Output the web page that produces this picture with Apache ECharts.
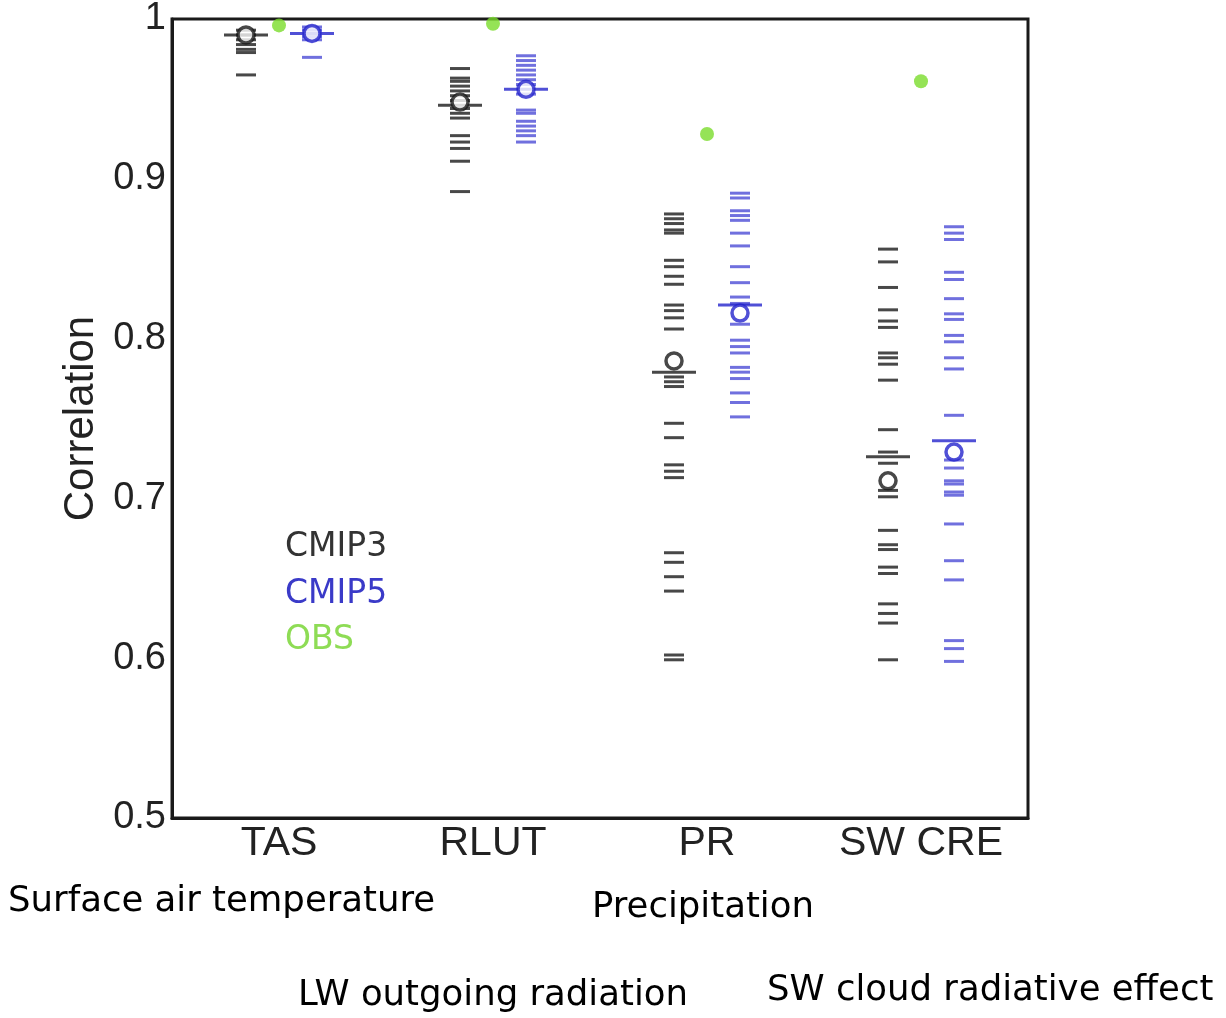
<!DOCTYPE html>
<html>
<head>
<meta charset="utf-8">
<script src="https://cdn.jsdelivr.net/npm/echarts@6/dist/echarts.min.js"></script>
<style>
html, body { margin: 0; padding: 0; background: #fff; }
#chart { width: 1226px; height: 1018px; }
</style>
</head>
<body>
<div id="chart"></div>
<script>
let categories = ["TAS", "RLUT", "PR", "SW CRE"];

// individual models, one dash each
let tasCmip3 = [0.993, 0.990, 0.987, 0.984, 0.981, 0.979, 0.965];
let tasCmip5 = [0.995, 0.993, 0.989, 0.987, 0.976];
let rlutCmip3 = [0.969, 0.963, 0.961, 0.958, 0.955, 0.952, 0.949, 0.944, 0.941, 0.938, 0.927, 0.923, 0.919, 0.911, 0.892];
let rlutCmip5 = [0.977, 0.974, 0.971, 0.968, 0.965, 0.962, 0.959, 0.953, 0.943, 0.941, 0.936, 0.933, 0.930, 0.927, 0.923];
let prCmip3 = [0.878, 0.875, 0.872, 0.868, 0.866, 0.849, 0.845, 0.839, 0.834, 0.821, 0.8175, 0.813, 0.806, 0.776, 0.773, 0.770, 0.747, 0.738, 0.721, 0.717, 0.713, 0.666, 0.660, 0.651, 0.642, 0.602, 0.599];
let prCmip5 = [0.891, 0.888, 0.880, 0.877, 0.874, 0.866, 0.858, 0.845, 0.835, 0.826, 0.822, 0.809, 0.799, 0.795, 0.791, 0.782, 0.779, 0.775, 0.766, 0.760, 0.751];
let swCmip3 = [0.856, 0.848, 0.832, 0.818, 0.811, 0.807, 0.791, 0.788, 0.784, 0.774, 0.743, 0.729, 0.722, 0.705, 0.701, 0.680, 0.671, 0.668, 0.657, 0.653, 0.634, 0.628, 0.622, 0.599];
let swCmip5 = [0.870, 0.866, 0.862, 0.8415, 0.837, 0.825, 0.8155, 0.812, 0.802, 0.798, 0.788, 0.781, 0.752, 0.724, 0.719, 0.711, 0.709, 0.704, 0.702, 0.684, 0.661, 0.649, 0.611, 0.606, 0.598];

let cmip3Mean = [0.990, 0.948, 0.786, 0.711];
let cmip3Median = [0.990, 0.946, 0.779, 0.726];
let cmip5Mean = [0.991, 0.956, 0.816, 0.729];
let cmip5Median = [0.991, 0.956, 0.821, 0.736];
let obs = [0.996, 0.997, 0.928, 0.961];

let yTicks = [0.5, 0.6, 0.7, 0.8, 0.9, 1];

let black = "#1a1a1a";
let blue = "#2424cc";
let green = "#7bdc2c";
let shift = 33;

function points(groups) {
	let out = [];
	groups.forEach((vals, i) => vals.forEach(v => out.push([i, v])));
	return out;
}

let chart = echarts.init(document.getElementById("chart"));

let labelFont = "Liberation Sans";
let noteFont = "35.5px 'DejaVu Sans'";
let legendFont = "33px 'DejaVu Sans'";

chart.setOption({
	animation: false,
	grid: {left: 172, right: 198, top: 18, bottom: 200, show: true, borderColor: "#1a1a1a", borderWidth: 3, backgroundColor: "transparent"},
	xAxis: {
		type: "category",
		data: categories,
		boundaryGap: true,
		axisLine: {lineStyle: {color: "#1a1a1a", width: 3}},
		axisTick: {inside: true, alignWithLabel: true, length: 14, lineStyle: {color: "#1a1a1a", width: 2}},
		axisLabel: {color: "#222", fontFamily: labelFont, fontSize: 41, margin: 5}
	},
	yAxis: {
		type: "value",
		min: 0.5,
		max: 1,
		interval: 0.05,
		name: "Correlation",
		nameLocation: "middle",
		nameGap: 66,
		nameTextStyle: {color: "#222", fontFamily: labelFont, fontSize: 42},
		axisLine: {show: true, lineStyle: {color: "#1a1a1a", width: 3}},
		axisTick: {inside: true, length: 10, lineStyle: {color: "#1a1a1a", width: 2}},
		splitLine: {show: false},
		axisLabel: {
			color: "#222", fontFamily: labelFont, fontSize: 38, margin: 6,
			formatter: v => {
				let t = yTicks.find(x => Math.abs(x - v) < 1e-6);
				return t === undefined ? "" : String(t);
			}
		}
	},
	series: [
		{
			type: "scatter", clip: false, z: 2,
			symbol: "rect", symbolSize: [20, 3], symbolOffset: [-shift, 0],
			itemStyle: {color: black, opacity: 0.8},
			data: points([tasCmip3, rlutCmip3, prCmip3, swCmip3])
		},
		{
			type: "scatter", clip: false, z: 2,
			symbol: "rect", symbolSize: [20, 3], symbolOffset: [shift, 0],
			itemStyle: {color: blue, opacity: 0.65},
			data: points([tasCmip5, rlutCmip5, prCmip5, swCmip5])
		},
		{
			type: "scatter", clip: false, z: 3,
			symbol: "rect", symbolSize: [44, 3], symbolOffset: [-shift, 0],
			itemStyle: {color: black},
			data: cmip3Median.map((v, i) => [i, v])
		},
		{
			type: "scatter", clip: false, z: 3,
			symbol: "rect", symbolSize: [44, 3], symbolOffset: [shift, 0],
			itemStyle: {color: blue},
			data: cmip5Median.map((v, i) => [i, v])
		},
		{
			type: "scatter", clip: false, z: 4,
			symbol: "circle", symbolSize: 16, symbolOffset: [-shift, 0],
			itemStyle: {color: "#fff", borderColor: black, borderWidth: 3.5},
			data: cmip3Mean.map((v, i) => [i, v])
		},
		{
			type: "scatter", clip: false, z: 4,
			symbol: "circle", symbolSize: 16, symbolOffset: [shift, 0],
			itemStyle: {color: "#fff", borderColor: blue, borderWidth: 3.5},
			data: cmip5Mean.map((v, i) => [i, v])
		},
		{
			type: "scatter", clip: false, z: 5,
			symbol: "circle", symbolSize: 14,
			itemStyle: {color: green},
			data: obs.map((v, i) => [i, v])
		}
	],
	graphic: [
		{type: "text", left: 285, top: 531, style: {text: "CMIP3", fill: "#333", font: legendFont}},
		{type: "text", left: 285, top: 578, style: {text: "CMIP5", fill: "#3a3ac8", font: legendFont}},
		{type: "text", left: 285, top: 624, style: {text: "OBS", fill: "#8edc55", font: legendFont}},
		{type: "text", left: 8, top: 884, style: {text: "Surface air temperature", fill: "#000", font: noteFont}},
		{type: "text", left: 592, top: 890, style: {text: "Precipitation", fill: "#000", font: noteFont}},
		{type: "text", left: 298, top: 978, style: {text: "LW outgoing radiation", fill: "#000", font: noteFont}},
		{type: "text", left: 767, top: 973, style: {text: "SW cloud radiative effect", fill: "#000", font: noteFont}}
	]
});
</script>
</body>
</html>
